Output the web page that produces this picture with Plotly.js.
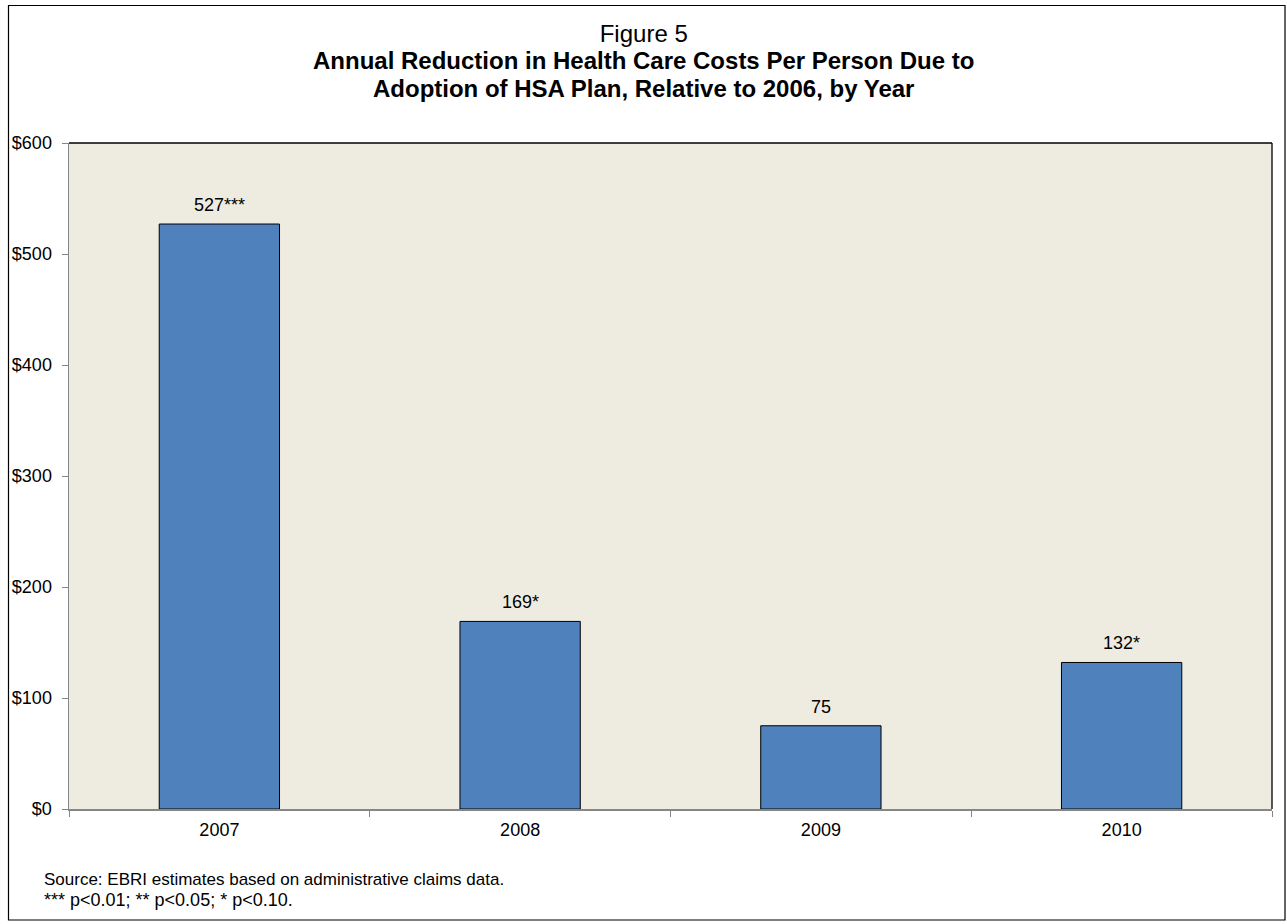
<!DOCTYPE html>
<html>
<head>
<meta charset="utf-8">
<script src="https://cdn.plot.ly/plotly-3.0.1.min.js"></script>
<style>html,body{margin:0;padding:0;background:#fff;}#chart{width:1287px;height:924px;}</style>
</head>
<body>
<div id="chart"></div>
<script>
const years = ["2007", "2008", "2009", "2010"];
const reductions = [527, 169, 75, 132];
const labels = ["527***", "169*", "75", "132*"];
const yTickVals = [0, 100, 200, 300, 400, 500, 600];
const yTickText = ["$0", "$100", "$200", "$300", "$400", "$500", "$600"];
const titleLines = [
  "Figure 5",
  "<b>Annual Reduction in Health Care Costs Per Person Due to</b>",
  "<b>Adoption of HSA Plan, Relative to 2006, by Year</b>"
];
const notes = [
  "Source: EBRI estimates based on administrative claims data.",
  "*** p<0.01; ** p<0.05; * p<0.10."
];

const FONT = "Liberation Sans, Arial, sans-serif";
const W = 1287, H = 924, L = 69, R = 15, T = 143, B = 115;
const pw = W - L - R, ph = H - T - B;
const px = v => (v - L) / pw;
const py = v => (H - B - v) / ph;

const trace = {
  type: "bar",
  x: years,
  y: reductions,
  width: 0.4,
  marker: { color: "#4F81BD", line: { color: "#000000", width: 1 } },
  hoverinfo: "none"
};

const annotations = years.map((yr, i) => ({
  x: i, y: reductions[i], xref: "x", yref: "y",
  text: labels[i], showarrow: false, yanchor: "bottom", yshift: 7,
  font: { family: FONT, size: 18, color: "#000" }
}));

annotations.push(
  { xref: "paper", yref: "paper", x: px(643.5), y: py(61), xanchor: "center", yanchor: "middle",
    text: titleLines.map(t => "<span style='font-size:24px'>" + t + "</span>").join("<br>"),
    showarrow: false, font: { family: FONT, size: 21, color: "#000" } },
  { xref: "paper", yref: "paper", x: px(42), y: py(879), xanchor: "left", yanchor: "middle",
    text: notes[0], showarrow: false, font: { family: FONT, size: 17, color: "#000" } },
  { xref: "paper", yref: "paper", x: px(42), y: py(900), xanchor: "left", yanchor: "middle",
    text: notes[1], showarrow: false, font: { family: FONT, size: 18, color: "#000" } }
);

const shapes = [
  { type: "rect", xref: "paper", yref: "paper", x0: px(8.5), x1: px(1285), y0: py(920), y1: py(5.5),
    line: { color: "#000", width: 1.2 }, fillcolor: "rgba(0,0,0,0)", layer: "below" },
  { type: "line", xref: "paper", yref: "paper", x0: 0, x1: 1, y0: 1, y1: 1, line: { color: "#000", width: 1.3 } },
  { type: "line", xref: "paper", yref: "paper", x0: 1, x1: 1, y0: 0, y1: 1, line: { color: "#000", width: 1.3 } }
];

const layout = {
  width: W, height: H,
  margin: { l: L, r: R, t: T, b: B, pad: 0 },
  paper_bgcolor: "#ffffff",
  plot_bgcolor: "#EEECE1",
  showlegend: false,
  font: { family: FONT, color: "#000" },
  xaxis: {
    type: "category", range: [-0.5, 3.5],
    showline: true, linecolor: "#868686", linewidth: 1.5,
    ticks: "outside", tickson: "boundaries", ticklen: 6, tickcolor: "#868686", tickwidth: 1,
    ticklabelstandoff: 4,
    showgrid: false, zeroline: false,
    tickfont: { family: FONT, size: 18, color: "#000" }
  },
  yaxis: {
    range: [0, 600], tickvals: yTickVals, ticktext: yTickText,
    showline: true, linecolor: "#868686", linewidth: 1.5,
    ticks: "outside", ticklen: 6, tickcolor: "#868686", tickwidth: 1,
    ticklabelstandoff: 6,
    showgrid: false, zeroline: false,
    tickfont: { family: FONT, size: 18, color: "#000" }
  },
  annotations: annotations,
  shapes: shapes
};

Plotly.newPlot("chart", [trace], layout, { displayModeBar: false, staticPlot: true });
</script>
</body>
</html>
